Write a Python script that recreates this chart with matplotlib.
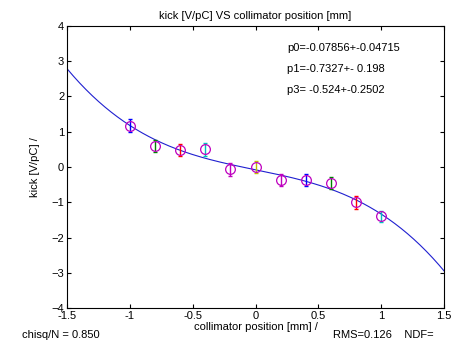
import numpy as np
import matplotlib
matplotlib.use("Agg")
import matplotlib.pyplot as plt

plt.rcParams['font.family'] = ['Liberation Sans', 'DejaVu Sans']

# datos medidos
pos = [-1.0, -0.8, -0.6, -0.4, -0.2, 0.0, 0.2, 0.4, 0.6, 0.8, 1.0]
kick = [1.17, 0.6, 0.48, 0.5, -0.07, 0.0, -0.37, -0.37, -0.45, -1.0, -1.4]
err = [0.18, 0.18, 0.18, 0.18, 0.18, 0.16, 0.16, 0.18, 0.18, 0.18, 0.16]
colores = ['b', 'g', 'r', 'c', 'm', 'y', 'm', 'b', 'g', 'r', 'c']

# parametros del ajuste
p0, p1, p3 = -0.07856, -0.7327, -0.524

fig = plt.figure(figsize=(4.51, 3.6), dpi=100)
ax = fig.add_axes([0.1486, 0.1444, 0.8359, 0.7834])

xf = np.linspace(-1.5, 1.5, 300)
ax.plot(xf, p0 + p1*xf + p3*xf**3, color='#2020d0', lw=0.8)

for x, y, e, c in zip(pos, kick, err, colores):
    ax.errorbar(x, y, yerr=e, color=c, lw=1, capsize=1.5, capthick=1)
    ax.plot(x, y, 'o', mfc='none', mec='m', ms=7, mew=0.9)

ax.set_xlim(-1.5, 1.5)
ax.set_ylim(-4, 4)
ax.set_xticks([-1.5, -1, -0.5, 0, 0.5, 1, 1.5])
ax.set_xticklabels(['-1.5', '-1', '-0.5', '0', '0.5', '1', '1.5'])
ax.set_yticks(range(-4, 5))
ax.tick_params(direction='in', top=True, right=True, labelsize=8, length=3, pad=2)

ax.set_title('kick [V/pC] VS collimator position [mm]', fontsize=8, pad=5)
ax.set_xlabel('collimator position [mm] /', fontsize=8, labelpad=1)
ax.set_ylabel('kick [V/pC] /', fontsize=8, labelpad=8)

ax.text(0.25, 3.3, 'p0=-0.07856+-0.04715', fontsize=8)
ax.text(0.25, 2.7, 'p1=-0.7327+- 0.198', fontsize=8)
ax.text(0.25, 2.1, 'p3= -0.524+-0.2502', fontsize=8)

fig.text(0.048, 0.062, 'chisq/N = 0.850', fontsize=8)
fig.text(0.738, 0.06, 'RMS=0.126    NDF=', fontsize=8)

plt.savefig('out.png', dpi=100)
